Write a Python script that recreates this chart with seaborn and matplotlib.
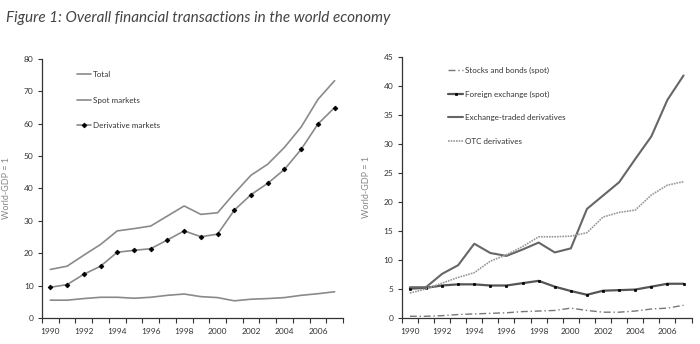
import matplotlib
matplotlib.use("Agg")
import matplotlib.pyplot as plt
from matplotlib.ticker import FixedLocator, NullFormatter, FixedFormatter
import seaborn as sns
import pandas as pd

years = list(range(1990, 2008))

# Left panel: overall transactions, multiples of world GDP
total = [15.0, 16.0, 19.4, 22.7, 26.9, 27.6, 28.4, 31.5, 34.6, 32.0, 32.5, 38.5,
         44.1, 47.5, 52.7, 59.0, 67.5, 73.3]
spot = [5.5, 5.5, 6.0, 6.4, 6.4, 6.1, 6.4, 7.0, 7.4, 6.6, 6.3, 5.3,
        5.8, 6.0, 6.3, 7.0, 7.5, 8.1]
derivative = [9.5, 10.3, 13.5, 16.0, 20.3, 20.9, 21.4, 24.1, 26.9, 25.1, 25.9, 33.3,
              38.1, 41.6, 45.9, 52.1, 59.9, 65.0]

# Right panel: breakdown by market segment
stocks_bonds = [0.3, 0.3, 0.4, 0.6, 0.7, 0.8, 0.9, 1.1, 1.2, 1.3, 1.7, 1.3,
                1.0, 1.0, 1.2, 1.55, 1.7, 2.2]
fx_spot = [5.05, 5.2, 5.6, 5.8, 5.8, 5.6, 5.6, 6.0, 6.4, 5.4, 4.65, 4.0,
           4.7, 4.8, 4.9, 5.4, 5.9, 5.9]
exchange_traded = [5.3, 5.3, 7.6, 9.1, 12.8, 11.2, 10.7, 11.8, 13.0, 11.3, 12.0, 18.8,
                   21.1, 23.4, 27.4, 31.3, 37.6, 41.8]
otc = [4.3, 5.0, 6.0, 7.0, 7.8, 9.8, 10.9, 12.3, 14.0, 14.0, 14.1, 14.7,
       17.4, 18.2, 18.6, 21.2, 22.9, 23.5]

year_labels = [str(y) for y in range(1990, 2007, 2)]
left_yticks = list(range(0, 81, 10))
right_yticks = list(range(0, 46, 5))

title = "Figure 1: Overall financial transactions in the world economy"
ylabel = "World-GDP = 1"

sns.set_style("white")
plt.rcParams["font.family"] = ["Lato", "DejaVu Sans"]

fig = plt.figure(figsize=(7.0, 3.44), dpi=100)
ax1 = fig.add_axes([0.06, 0.0756, 0.43, 0.753])
ax2 = fig.add_axes([0.574, 0.0756, 0.414, 0.759])

fig.text(0.008, 0.935, title, fontsize=11, style="italic", color="#444444",
         ha="left", va="baseline")

df_left = pd.DataFrame({"year": years, "total": total, "spot": spot,
                        "derivative": derivative})
df_right = pd.DataFrame({"year": years, "stocks": stocks_bonds, "fx": fx_spot,
                         "etd": exchange_traded, "otc": otc})

grey = "#8a8a8a"
sns.lineplot(data=df_left, x="year", y="total", ax=ax1, color=grey, lw=1.2,
             label="Total")
sns.lineplot(data=df_left, x="year", y="spot", ax=ax1, color=grey, lw=1.2,
             label="Spot markets")
sns.lineplot(data=df_left, x="year", y="derivative", ax=ax1, color=grey, lw=1.2,
             marker="D", markersize=2.4, markerfacecolor="black",
             markeredgecolor="black", markeredgewidth=0.6,
             label="Derivative markets")

sns.lineplot(data=df_right, x="year", y="stocks", ax=ax2, color="#777777", lw=1.0,
             linestyle=(0, (5, 2, 1, 2)), label="Stocks and bonds (spot)")
sns.lineplot(data=df_right, x="year", y="fx", ax=ax2, color="#555555", lw=1.6,
             marker="s", markersize=1.9, markerfacecolor="black",
             markeredgecolor="black", markeredgewidth=0.5,
             label="Foreign exchange (spot)")
sns.lineplot(data=df_right, x="year", y="etd", ax=ax2, color="#666666", lw=1.5,
             label="Exchange-traded derivatives")
sns.lineplot(data=df_right, x="year", y="otc", ax=ax2, color="#999999", lw=1.2,
             linestyle=(0, (1, 0.6)), label="OTC derivatives")


def style_axis(ax, ymax, yticks, legend_anchor, spacing):
    ax.set_xlim(1989.5, 2007.5)
    ax.set_ylim(0, ymax)
    ax.xaxis.set_major_locator(FixedLocator([1989.5 + k for k in range(19)]))
    ax.xaxis.set_major_formatter(NullFormatter())
    ax.xaxis.set_minor_locator(FixedLocator(list(range(1990, 2007, 2))))
    ax.xaxis.set_minor_formatter(FixedFormatter(year_labels))
    ax.tick_params(axis="x", which="major", direction="out", length=3.5,
                   width=0.8, color="#333333", bottom=True)
    ax.tick_params(axis="x", which="minor", length=0, pad=7, labelsize=6,
                   labelcolor="#333333", bottom=True)
    ax.set_yticks(yticks)
    ax.tick_params(axis="y", direction="out", length=3, width=0.8,
                   color="#333333", labelsize=6, labelcolor="#333333", left=True,
                   pad=3)
    for side in ("top", "right"):
        ax.spines[side].set_visible(False)
    for side in ("left", "bottom"):
        ax.spines[side].set_color("#333333")
        ax.spines[side].set_linewidth(0.9)
    ax.set_xlabel("")
    ax.set_ylabel(ylabel, fontsize=6.5, color="#888888", labelpad=9)
    ax.legend(loc="upper left", bbox_to_anchor=legend_anchor, frameon=False,
              fontsize=5.8, handlelength=1.8, handletextpad=0.2,
              labelspacing=spacing, borderaxespad=0, labelcolor="#333333")


style_axis(ax1, 80, left_yticks, (0.105, 0.965), 2.3)
style_axis(ax2, 45, right_yticks, (0.15, 0.975), 2.05)

fig.savefig("out.png", dpi=100)
